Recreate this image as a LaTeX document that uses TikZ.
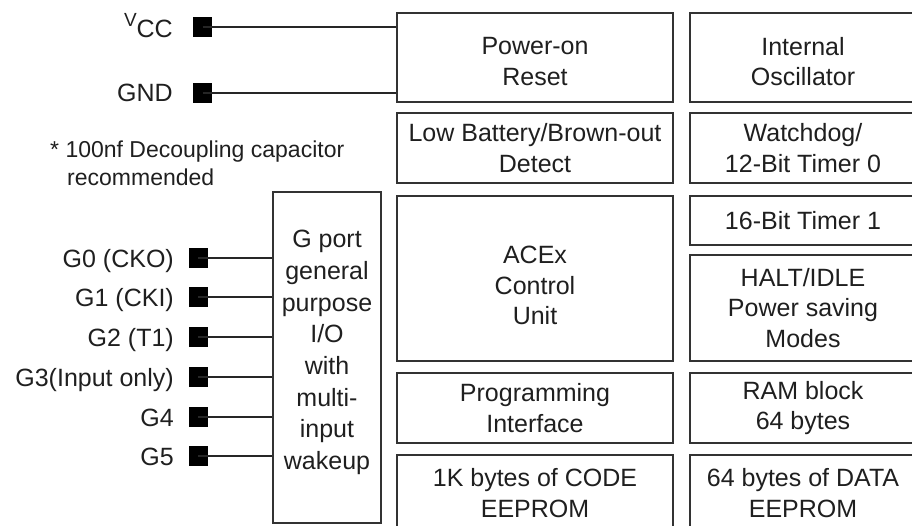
\documentclass[tikz,border=0pt]{standalone}
\usepackage{fontspec}
\setmainfont{Liberation Sans}
\begin{document}
\begin{tikzpicture}[x=1pt,y=-1pt,
  box/.style={draw=black!80, line width=1.8pt, inner sep=0pt, align=center,
    font=\fontsize{25}{30.5}\selectfont, text=black!88},
  midbox/.style={box, minimum width=276pt},
  rbox/.style={box, minimum width=226pt},
  boxtext/.style={inner sep=0pt, align=center, font=\fontsize{25}{30.5}\selectfont, text=black!88},
  pinsq/.style={fill=black, draw=none, minimum width=19pt, minimum height=20pt, inner sep=0pt},
  lbl/.style={font=\fontsize{25}{30}\selectfont, text=black!88, inner sep=0pt},
  note/.style={font=\fontsize{23}{28}\selectfont, text=black!88, inner sep=0pt},
  wire/.style={draw=black!85, line width=1.4pt}]
\useasboundingbox (0,0) rectangle (912,525);

% middle column
\node[midbox, minimum height=89pt] (por)  at (535,57.5)  {};
\node[boxtext, yshift=-4pt] (portxt) at (por.center) {Power-on\\Reset};
\node[midbox, minimum height=70pt] (lbd)  at (535,148)   {Low Battery/Brown-out\\Detect};
\node[midbox, minimum height=165pt] (acex) at (535,278.5) {};
\node[boxtext, yshift=-7pt] (acextxt) at (acex.center) {ACEx\\Control\\Unit};
\node[midbox, minimum height=70pt] (prog) at (535,408)   {Programming\\Interface};
\node[midbox, minimum height=76pt] (code) at (535,493)   {1K bytes of CODE\\EEPROM};

% right column
\node[rbox, minimum height=89pt] (osc)  at (803,57.5)  {};
\node[boxtext, yshift=-4pt] (osctxt) at (osc.center) {Internal\\Oscillator};
\node[rbox, minimum height=70pt] (wdt)  at (803,148)   {Watchdog/\\12-Bit Timer 0};
\node[rbox, minimum height=49pt] (tmr)  at (803,220.5) {16-Bit Timer 1};
\node[rbox, minimum height=106pt] (halt) at (803,308)  {HALT/IDLE\\Power saving\\Modes};
\node[rbox, minimum height=70pt] (ram)  at (803,408)   {RAM block\\64 bytes};
\node[rbox, minimum height=76pt] (data) at (803,493)   {64 bytes of DATA\\EEPROM};

% G port
\node[box, minimum width=108pt, minimum height=331pt] (gport) at (327,357.5) {};
\node[boxtext, font=\fontsize{25}{31.7}\selectfont, yshift=5pt] (gtxt) at (gport.center)
  {G port\\general\\purpose\\I/O\\with\\multi-\\input\\wakeup};

% power pins
\node[pinsq] (vcc) at (202.5,27) {};
\node[pinsq] (gnd) at (202.5,93) {};
\node[lbl, anchor=base east] (vcclbl) at (173,37)
  {\raisebox{11pt}{\fontsize{19}{19}\selectfont V}CC};
\node[lbl, anchor=base east] (gndlbl) at (173,101) {GND};
\draw[wire] (vcc.center) -- (vcc.center -| por.west);
\draw[wire] (gnd.center) -- (gnd.center -| por.west);

% note
\node[note, anchor=base west] (note1) at (50,157) {* 100nf Decoupling capacitor};
\node[note, anchor=base west] (note2) at (67,185) {recommended};

% G pins
\foreach \n/\y/\t in {g0/258/G0 (CKO), g1/297/G1 (CKI), g2/337/G2 (T1),
                      g3/377/G3(Input only), g4/417/G4, g5/456/G5} {
  \node[pinsq] (\n) at (198,\y) {};
  \node[lbl, anchor=base east] (\n lbl) at (174,\y+9) {\t};
  \draw[wire] (\n.center) -- (\n.center -| gport.west);
}
\end{tikzpicture}
\end{document}
